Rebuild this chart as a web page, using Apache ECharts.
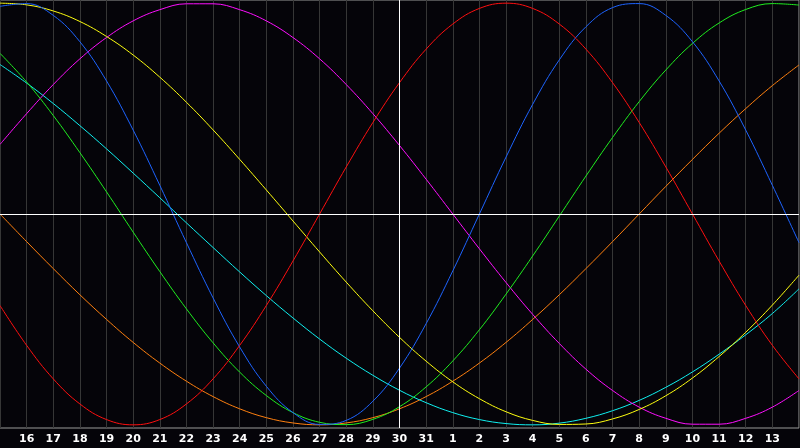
<!DOCTYPE html>
<html lang="en">

<head>
    <meta charset="UTF-8">
    <title>Biorhythm</title>
    <script src="https://cdnjs.cloudflare.com/ajax/libs/echarts/6.0.0/echarts.min.js"></script>
    <style>
        html, body { margin: 0; padding: 0; background: #050409; }
    </style>
</head>

<body>
    <div id="main" style="width: 800px;height:448px;"></div>

    <script type="text/javascript">
        // days shown on the axis (first and last are edges, not labelled)
        const days = ['15', '16', '17', '18', '19', '20', '21', '22', '23', '24', '25', '26', '27', '28', '29', '30', '31',
            '1', '2', '3', '4', '5', '6', '7', '8', '9', '10', '11', '12', '13', '14'];
        const todayIndex = 15;

        // values, -1 .. 1
        const red = [-0.434, -0.623, -0.782, -0.901, -0.975, -1.000, -0.975, -0.901, -0.782, -0.623, -0.434, -0.223, 0.000,
            0.223, 0.434, 0.623, 0.782, 0.901, 0.975, 1.000, 0.975, 0.901, 0.782, 0.623, 0.434, 0.223, 0.000, -0.223,
            -0.434, -0.623, -0.782];
        const blue = [0.985, 0.998, 0.942, 0.817, 0.631, 0.398, 0.136, -0.136, -0.398, -0.631, -0.817, -0.942, -0.998,
            -0.979, -0.888, -0.731, -0.520, -0.270, 0.000, 0.270, 0.520, 0.731, 0.888, 0.979, 0.998, 0.942, 0.817,
            0.631, 0.398, 0.136, -0.136];
        const green = [0.762, 0.626, 0.467, 0.291, 0.105, -0.086, -0.273, -0.450, -0.611, -0.750, -0.861, -0.942, -0.988,
            -0.999, -0.974, -0.914, -0.820, -0.697, -0.549, -0.380, -0.199, -0.010, 0.180, 0.363, 0.533, 0.683, 0.809,
            0.906, 0.970, 0.998, 0.991];
        const magenta = [0.330, 0.476, 0.614, 0.736, 0.837, 0.916, 0.969, 0.997, 0.997, 0.969, 0.916, 0.837, 0.736,
            0.614, 0.476, 0.325, 0.165, 0.000, -0.165, -0.325, -0.476, -0.614, -0.736, -0.837, -0.916, -0.969, -0.997,
            -0.997, -0.969, -0.916, -0.837];
        const yellow = [1.000, 0.992, 0.963, 0.913, 0.842, 0.754, 0.649, 0.530, 0.399, 0.259, 0.114, -0.033, -0.180,
            -0.323, -0.459, -0.585, -0.698, -0.796, -0.876, -0.938, -0.979, -0.998, -0.996, -0.972, -0.927, -0.862,
            -0.778, -0.676, -0.561, -0.432, -0.290];
        const cyan = [0.709, 0.621, 0.524, 0.419, 0.309, 0.194, 0.077, -0.042, -0.159, -0.275, -0.387, -0.493, -0.593,
            -0.684, -0.765, -0.836, -0.895, -0.942, -0.975, -0.994, -1.000, -0.992, -0.969, -0.933, -0.884, -0.822,
            -0.749, -0.665, -0.573, -0.472, -0.355];
        const orange = [0.000, -0.131, -0.259, -0.383, -0.500, -0.609, -0.707, -0.793, -0.866, -0.924, -0.966, -0.991,
            -1.000, -0.991, -0.966, -0.924, -0.866, -0.793, -0.707, -0.609, -0.500, -0.383, -0.259, -0.131, 0.000,
            0.131, 0.259, 0.383, 0.500, 0.609, 0.707];

        const curves = [
            { name: 'orange', data: orange, color: '#ff8010' },
            { name: 'cyan', data: cyan, color: '#10f0f0' },
            { name: 'magenta', data: magenta, color: '#ff10ff' },
            { name: 'yellow', data: yellow, color: '#ffff10' },
            { name: 'green', data: green, color: '#20ee20' },
            { name: 'blue', data: blue, color: '#1e64ff' },
            { name: 'red', data: red, color: '#ff1010' }
        ];

        const myChart = echarts.init(document.getElementById('main'));

        const series = curves.map(c => ({
            name: c.name,
            type: 'line',
            data: c.data,
            smooth: 0.4,
            smoothConstraint: false,
            symbol: 'none',
            silent: true,
            lineStyle: { color: c.color, width: 1 }
        }));

        // white centre lines (zero and today)
        series.unshift({
            type: 'line',
            data: [],
            silent: true,
            markLine: {
                symbol: 'none',
                silent: true,
                label: { show: false },
                lineStyle: { color: '#ffffff', width: 1, type: 'solid' },
                data: [{ xAxis: todayIndex }, { yAxis: 0 }]
            }
        });

        var option = {
            backgroundColor: '#050409',
            animation: false,
            grid: {
                left: 0, right: 1, top: 0, bottom: 20,
                show: true,
                borderColor: '#9a9a9a',
                borderWidth: 1,
                backgroundColor: '#050409'
            },
            xAxis: {
                type: 'category',
                data: days,
                boundaryGap: false,
                axisLine: { show: false },
                axisTick: { show: false },
                axisLabel: {
                    interval: (idx) => idx > 0 && idx < days.length - 1,
                    color: '#ffffff',
                    fontFamily: 'DejaVu Sans',
                    fontWeight: 'bold',
                    fontSize: 11,
                    margin: 6
                },
                splitLine: { show: true, interval: 0, lineStyle: { color: '#363636', width: 1 } }
            },
            yAxis: {
                type: 'value',
                min: -1.015,
                max: 1.015,
                axisLine: { show: false },
                axisTick: { show: false },
                axisLabel: { show: false },
                splitLine: { show: false }
            },
            series: series
        };

        myChart.setOption(option);
    </script>
</body>

</html>
